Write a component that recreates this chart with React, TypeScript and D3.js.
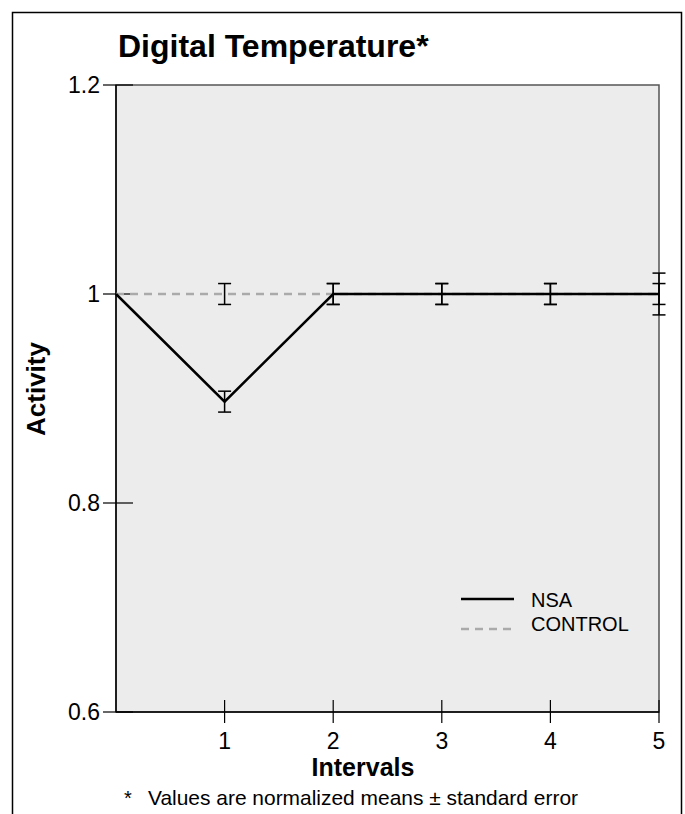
import React from "react";
import * as d3 from "d3";

const intervals = [0, 1, 2, 3, 4, 5];
const nsaValues = [1, 0.897, 1, 1, 1, 1];
const nsaErrors = [0, 0.01, 0.01, 0.01, 0.01, 0.01];
const controlValues = [1, 1, 1, 1, 1, 1];
const controlErrors = [0, 0.01, 0.01, 0.01, 0.01, 0.02];
const xTicks = [1, 2, 3, 4, 5];
const yTicks = [0.6, 0.8, 1, 1.2];
const yTickLabels = ["0.6", "0.8", "1", "1.2"];
const legendLabels = ["NSA", "CONTROL"];

const W = 685;
const H = 814;
const M = { left: 116, right: 659, top: 85, bottom: 712 };
const FONT = "'Liberation Sans', Arial, Helvetica, sans-serif";

export default function App() {
  const x = d3.scaleLinear().domain([0, 5]).range([M.left, M.right]);
  const y = d3.scaleLinear().domain([0.6, 1.2]).range([M.bottom, M.top]);
  const line = d3
    .line<number>()
    .x((_, i) => x(intervals[i]))
    .y((d) => y(d));

  const errBar = (xi: number, v: number, e: number, key: string) => {
    if (!e) return null;
    const cx = x(xi);
    const y1 = y(v + e);
    const y2 = y(v - e);
    return (
      <g key={key} stroke="#000" strokeWidth={1.5}>
        <line x1={cx} x2={cx} y1={y1} y2={y2} />
        <line x1={cx - 6.5} x2={cx + 6.5} y1={y1} y2={y1} />
        <line x1={cx - 6.5} x2={cx + 6.5} y1={y2} y2={y2} />
      </g>
    );
  };

  return (
    <svg
      width={W}
      height={H}
      style={{ position: "absolute", left: 0, top: 0, background: "#fff" }}
      fontFamily={FONT}
    >
      <rect x={12.5} y={12.5} width={669} height={H} fill="#fff" stroke="#000" strokeWidth={1.5} />
      <text x={118} y={57} fontSize={32} fontWeight="bold" fill="#000">
        Digital Temperature*
      </text>

      <rect
        x={M.left}
        y={M.top}
        width={M.right - M.left}
        height={M.bottom - M.top}
        fill="#ececec"
        stroke="#555"
        strokeWidth={1.5}
      />
      <line x1={M.left} x2={M.left} y1={M.top} y2={M.bottom} stroke="#000" strokeWidth={1.5} />
      <line x1={M.left} x2={M.right} y1={M.bottom} y2={M.bottom} stroke="#000" strokeWidth={1.5} />

      {yTicks.map((t, i) => (
        <g key={"yt" + t}>
          <line x1={M.left - 13} x2={M.left + 17} y1={y(t)} y2={y(t)} stroke="#000" strokeWidth={1.2} />
          <text
            x={100}
            y={y(t)}
            dy="0.36em"
            textAnchor="end"
            fontSize={23}
            fill="#000"
          >
            {yTickLabels[i]}
          </text>
        </g>
      ))}

      {xTicks.map((t) => (
        <g key={"xt" + t}>
          <line x1={x(t)} x2={x(t)} y1={M.bottom - 12} y2={M.bottom + 11} stroke="#000" strokeWidth={1.2} />
          <text x={x(t)} y={749} textAnchor="middle" fontSize={23} fill="#000">
            {t}
          </text>
        </g>
      ))}

      <path
        d={line(controlValues) || ""}
        fill="none"
        stroke="#aaa"
        strokeWidth={2.5}
        strokeDasharray="8 6"
      />
      <path d={line(nsaValues) || ""} fill="none" stroke="#000" strokeWidth={2.5} />

      {intervals.map((xi, i) => errBar(xi, controlValues[i], controlErrors[i], "ce" + i))}
      {intervals.map((xi, i) => errBar(xi, nsaValues[i], nsaErrors[i], "ne" + i))}

      <line x1={461} x2={514} y1={599} y2={599} stroke="#000" strokeWidth={2.5} />
      <text x={531} y={600} dy="0.36em" fontSize={20} fill="#000">
        {legendLabels[0]}
      </text>
      <line x1={461} x2={514} y1={629} y2={629} stroke="#aaa" strokeWidth={2.5} strokeDasharray="8 6" />
      <text x={531} y={624} dy="0.36em" fontSize={20} fill="#000">
        {legendLabels[1]}
      </text>

      <text x={363} y={776} textAnchor="middle" fontSize={25} fontWeight="bold" fill="#000">
        Intervals
      </text>
      <text
        transform={`translate(45, 389) rotate(-90)`}
        textAnchor="middle"
        fontSize={26}
        fontWeight="bold"
        fill="#000"
      >
        Activity
      </text>

      <text x={124} y={805} fontSize={20} fill="#000">
        *
      </text>
      <text x={148} y={805} fontSize={21} textLength={430} lengthAdjust="spacingAndGlyphs" fill="#000">
        Values are normalized means ± standard error
      </text>
    </svg>
  );
}
